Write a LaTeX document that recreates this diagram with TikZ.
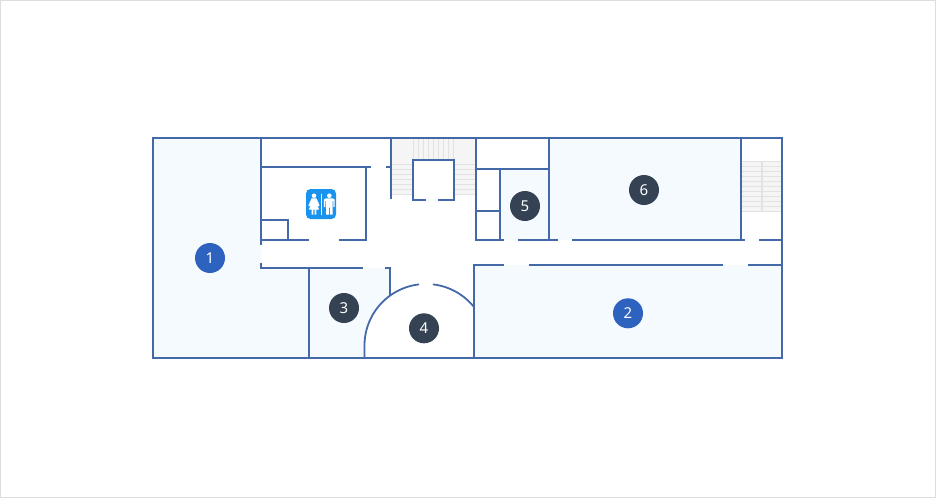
\documentclass[tikz,border=0pt]{standalone}
\usepackage{fontspec}
\setmainfont{Noto Sans}
\definecolor{wall}{HTML}{4469A8}
\definecolor{roomfill}{HTML}{F5FAFE}
\definecolor{stairfill}{HTML}{F5F5F5}
\definecolor{stairline}{HTML}{E2E2E2}
\definecolor{bluebadge}{HTML}{2D62BE}
\definecolor{darkbadge}{HTML}{354254}
\definecolor{iconblue}{HTML}{1A93EE}
\tikzset{
  x=1pt,y=-1pt,
  wallline/.style={draw=wall,line width=2.1pt,line cap=butt,line join=miter},
  room/.style={fill=roomfill,draw=none},
  stairs/.style={fill=stairfill,draw=none},
  tread/.style={draw=stairline,line width=0.9pt},
  badge/.style={circle,minimum size=30pt,inner sep=0pt,text=white,font=\fontsize{15}{17}\selectfont},
  primary/.style={badge,fill=bluebadge},
  secondary/.style={badge,fill=darkbadge},
  figure/.style={fill=white,draw=none}
}
\begin{document}
\begin{tikzpicture}
\useasboundingbox (0,0) rectangle (936,498);
\draw[draw=black!13,line width=1pt] (0.5,0.5) rectangle (935.5,497.5);
% room fills
\path[room] (153,138) -- (261,138) -- (261,268) -- (309,268) -- (309,358) -- (153,358) -- cycle;
\path[room] (309,268) -- (390,268) -- (390,296)
  -- plot[domain=125.8:180,samples=30] ({426+61.5*cos(\x)},{345.5-61.5*sin(\x)})
  -- (364.5,358) -- (309,358) -- cycle;
\path[room] (474,265) rectangle (782,358);
\path[room] (549,138) rectangle (741,240);
\path[room] (500,169) rectangle (549,240);
% central stairs
\path[stairs] (391,138) rectangle (476,195);
\foreach \i in {0,...,8} {\draw[tread] ({413.3+5*\i},138) -- ({413.3+5*\i},160);}
\foreach \i in {0,...,6} {
  \draw[tread] (391,{164.3+5*\i}) -- (413,{164.3+5*\i});
  \draw[tread] (454,{164.3+5*\i}) -- (476,{164.3+5*\i});
}
\fill[white] (413,160) rectangle (454,200);
% right stairs
\path[stairs] (741,161) rectangle (782,211.5);
\foreach \i in {0,...,10} {\draw[tread] (741,{161.3+5*\i}) -- (782,{161.3+5*\i});}
\draw[draw=stairline,line width=1.8pt] (761.7,161) -- (761.7,211.5);
% walls
\draw[wallline] (153,138) rectangle (782,358);
\draw[wallline] (261,138) -- (261,244.5);
\draw[wallline] (260,167) -- (371,167);
\draw[wallline] (386,167) -- (391,167);
\draw[wallline] (366,167) -- (366,241);
\draw[wallline] (261,240) -- (309,240);
\draw[wallline] (339,240) -- (367,240);
\draw[wallline] (261,220) -- (288,220) -- (288,240);
\draw[wallline] (261,263) -- (261,268) -- (363,268);
\draw[wallline] (385,268) -- (390,268) -- (390,296);
\draw[wallline] (309,268) -- (309,358);
\draw[wallline] (391,138) -- (391,199);
\draw[wallline] (426,200) -- (413,200) -- (413,160) -- (454,160) -- (454,200) -- (438,200);
\draw[wallline] (476,138) -- (476,241);
\draw[wallline] (476,169) -- (549,169);
\draw[wallline] (549,138) -- (549,241);
\draw[wallline] (500,169) -- (500,241);
\draw[wallline] (476,211) -- (500,211);
\draw[wallline] (475,240) -- (504,240);
\draw[wallline] (518,240) -- (558,240);
\draw[wallline] (572,240) -- (745,240);
\draw[wallline] (759,240) -- (782,240);
\draw[wallline] (741,138) -- (741,240);
\draw[wallline] (474,358) -- (474,265) -- (504,265);
\draw[wallline] (529,265) -- (723,265);
\draw[wallline] (748,265) -- (782,265);
\draw[wallline,line width=1.8pt] (364.5,358)
  -- plot[domain=180:96.5,samples=50] ({426+61.5*cos(\x)},{345.5-61.5*sin(\x)});
\draw[wallline,line width=1.8pt]
  plot[domain=83.5:38.7,samples=30] ({426+61.5*cos(\x)},{345.5-61.5*sin(\x)});
% restroom icon
\node[fill=iconblue,rounded corners=4.5pt,minimum size=30pt,inner sep=0pt] (icon) at (321,204) {};
\draw[white,line width=0.9pt] (321.7,193.5) -- (321.7,215);
\fill[figure] (314,195.7) circle[radius=2.3];
\path[figure] (311.5,198.4) -- (316.5,198.4) -- (319.6,205.5) -- (318.4,206.2) -- (316.6,201.8)
  -- (319,209.5) -- (316.3,209.5) -- (316.3,214.6) -- (314.6,214.6) -- (314.6,209.5)
  -- (313.4,209.5) -- (313.4,214.6) -- (311.7,214.6) -- (311.7,209.5) -- (309,209.5)
  -- (311.4,201.8) -- (309.6,206.2) -- (308.4,205.5) -- cycle;
\fill[figure] (329.3,195.7) circle[radius=2.3];
\path[figure] (325.9,198.4) -- (332.7,198.4) -- (334.7,199.5) -- (334.7,207) -- (333.3,207)
  -- (333.3,201) -- (332.6,201) -- (332.6,214.6) -- (329.8,214.6) -- (329.8,207.5) -- (328.8,207.5)
  -- (328.8,214.6) -- (326,214.6) -- (326,201) -- (325.3,201) -- (325.3,207) -- (323.9,207)
  -- (323.9,199.5) -- cycle;
% badges
\node[primary] (n1) at (210,258) {1};
\node[primary] (n2) at (628,313.3) {2};
\node[secondary] (n3) at (344,308) {3};
\node[secondary] (n4) at (424,328.3) {4};
\node[secondary] (n5) at (525,206) {5};
\node[secondary] (n6) at (644,190) {6};
\end{tikzpicture}
\end{document}
